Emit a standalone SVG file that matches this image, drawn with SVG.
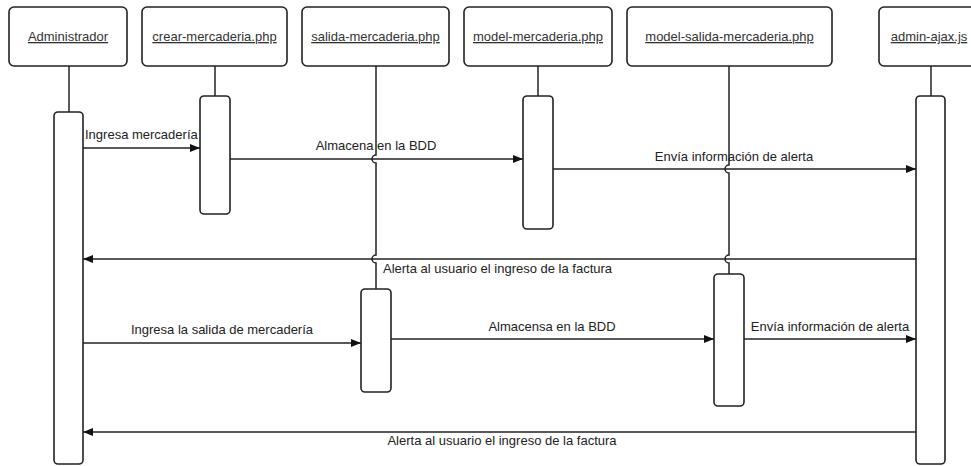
<svg xmlns="http://www.w3.org/2000/svg" width="971" height="466" viewBox="0 0 971 466">
<style>
.box{fill:#fff;stroke:#222;stroke-width:1.6}
.ln{fill:none;stroke:#222;stroke-width:1.5}
.hd{font-family:"Liberation Sans",Arial,sans-serif;font-size:13px;fill:#333;text-anchor:middle;text-decoration:underline}
.lb{font-family:"Liberation Sans",Arial,sans-serif;font-size:13px;fill:#222}
.m{text-anchor:middle}
</style>
<defs>
<marker id="ah" viewBox="0 0 10 8" refX="10" refY="4" markerWidth="10" markerHeight="8" markerUnits="userSpaceOnUse" orient="auto">
<path d="M0 0 L10 4 L0 8 Z" fill="#111"/>
</marker>
</defs>
<rect width="971" height="466" fill="#fff"/>
<g id="lifelines">
<path class="ln" d="M69 66 V112"/>
<path class="ln" d="M215 66 V96"/>
<path class="ln" d="M376 66 V155 a4 4 0 0 0 0 8 V255 a4 4 0 0 0 0 8 V289"/>
<path class="ln" d="M538 66 V96"/>
<path class="ln" d="M729 66 V165 a4 4 0 0 0 0 8 V255 a4 4 0 0 0 0 8 V274"/>
<path class="ln" d="M931 66 V96"/>
</g>
<g id="administrador">
<rect class="box" x="9" y="7" width="118" height="59" rx="5"/>
<text class="hd" x="68" y="41">Administrador</text>
<rect class="box" x="54" y="112" width="29" height="352" rx="4"/>
</g>
<g id="crear-mercaderia">
<rect class="box" x="142" y="7" width="145" height="59" rx="5"/>
<text class="hd" x="214.5" y="41">crear-mercaderia.php</text>
<rect class="box" x="200" y="96" width="30" height="118" rx="4"/>
</g>
<g id="salida-mercaderia">
<rect class="box" x="302" y="7" width="147" height="59" rx="5"/>
<text class="hd" x="375.5" y="41">salida-mercaderia.php</text>
<rect class="box" x="361" y="289" width="30" height="103" rx="4"/>
</g>
<g id="model-mercaderia">
<rect class="box" x="464" y="7" width="148" height="59" rx="5"/>
<text class="hd" x="538" y="41">model-mercaderia.php</text>
<rect class="box" x="523" y="96" width="30" height="133" rx="4"/>
</g>
<g id="model-salida-mercaderia">
<rect class="box" x="627" y="7" width="205" height="59" rx="5"/>
<text class="hd" x="729.5" y="41">model-salida-mercaderia.php</text>
<rect class="box" x="714" y="274" width="30" height="132" rx="4"/>
</g>
<g id="admin-ajax">
<rect class="box" x="879" y="7" width="104" height="59" rx="5"/>
<text class="hd" x="929" y="41">admin-ajax.js</text>
<rect class="box" x="916" y="96" width="29" height="368" rx="4"/>
</g>
<g id="connectors">
<path class="ln" d="M83 148 H200" marker-end="url(#ah)"/>
<text class="lb" x="85" y="139">Ingresa mercadería</text>
<path class="ln" d="M230 159 H523" marker-end="url(#ah)"/>
<text class="lb m" x="376" y="150">Almacena en la BDD</text>
<path class="ln" d="M553 169 H916" marker-end="url(#ah)"/>
<text class="lb m" x="734" y="161">Envía información de alerta</text>
<path class="ln" d="M916 259 H83" marker-end="url(#ah)"/>
<text class="lb" x="383" y="273">Alerta al usuario el ingreso de la factura</text>
<path class="ln" d="M83 343 H361" marker-end="url(#ah)"/>
<text class="lb m" x="222" y="334">Ingresa la salida de mercadería</text>
<path class="ln" d="M391 339 H714" marker-end="url(#ah)"/>
<text class="lb m" x="552" y="331">Almacensa en la BDD</text>
<path class="ln" d="M744 339 H916" marker-end="url(#ah)"/>
<text class="lb m" x="830" y="331">Envía información de alerta</text>
<path class="ln" d="M916 432 H83" marker-end="url(#ah)"/>
<text class="lb m" x="502" y="445">Alerta al usuario el ingreso de la factura</text>
</g>
</svg>
